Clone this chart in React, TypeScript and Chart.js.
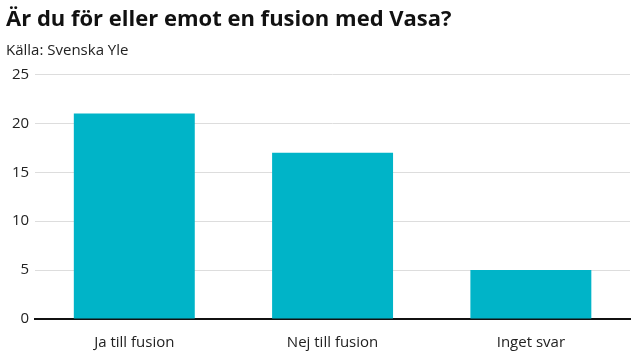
import React, { useEffect, useRef } from "react";
import { Chart, registerables } from "chart.js";

Chart.register(...registerables);

const categories = ["Ja till fusion", "Nej till fusion", "Inget svar"];
const values = [21, 17, 5];
const yTicks = [0, 5, 10, 15, 20, 25];
const titleText = "Är du för eller emot en fusion med Vasa?";
const subtitleText = "Källa: Svenska Yle";

const FONT = "'Open Sans', 'DejaVu Sans Condensed', sans-serif";

export default function App() {
  const ref = useRef<HTMLCanvasElement>(null);
  useEffect(() => {
    if (!ref.current) return;
    const chart = new Chart(ref.current, {
      type: "bar",
      data: {
        labels: categories,
        datasets: [
          {
            data: values,
            backgroundColor: "#00b4c8",
            barPercentage: 0.61,
            categoryPercentage: 1,
          },
        ],
      },
      options: {
        animation: false,
        responsive: false,
        layout: { padding: { left: 6, right: 10, top: 7, bottom: 0 } },
        plugins: {
          legend: { display: false },
          tooltip: { enabled: false },
          title: {
            display: true,
            text: titleText,
            align: "start",
            color: "#111",
            font: { family: FONT, size: 22, weight: "bold" },
            padding: { top: 0, bottom: 8 },
          },
          subtitle: {
            display: true,
            text: subtitleText,
            align: "start",
            color: "#222",
            font: { family: FONT, size: 15 },
            padding: { top: 0, bottom: 15 },
          },
        },
        scales: {
          x: {
            grid: { display: false, drawTicks: false },
            border: { display: true, color: "#111", width: 2 },
            ticks: {
              color: "#222",
              font: { family: FONT, size: 15 },
              padding: 15,
            },
            afterFit: (axis: any) => {
              axis.height = 41;
            },
          },
          y: {
            min: 0,
            max: 25,
            afterBuildTicks: (axis: any) => {
              axis.ticks = yTicks.map((v) => ({ value: v }));
            },
            grid: { color: "#dddddd", lineWidth: 1, drawTicks: false },
            border: { display: false },
            ticks: {
              color: "#222",
              font: { family: FONT, size: 15 },
              padding: 6,
            },
          },
        },
      },
    });
    return () => chart.destroy();
  }, []);
  return (
    <div style={{ position: "absolute", left: 0, top: 0, width: 640, height: 360, background: "#fff" }}>
      <canvas ref={ref} width={640} height={360} />
    </div>
  );
}
